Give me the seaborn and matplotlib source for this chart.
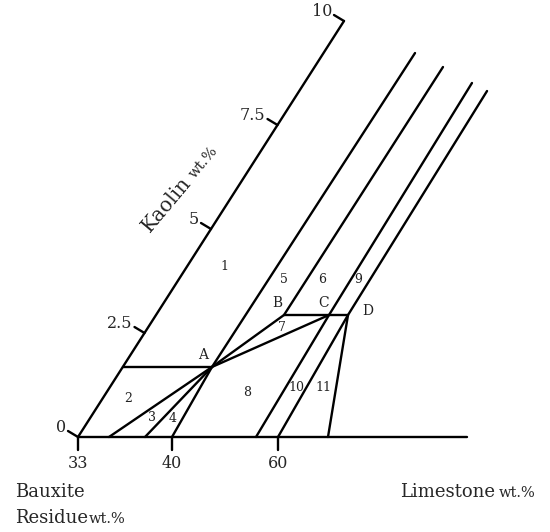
import numpy as np
import pandas as pd
import matplotlib
matplotlib.use("Agg")
import matplotlib.pyplot as plt
import seaborn as sns

sns.set_theme(style="white")
plt.rcParams['font.family'] = ['DejaVu Serif']

# ---- data (diagram coordinates: u = position along the base line, k = kaolin wt.%) ----
node_names = ['A', 'B', 'C', 'D']
node_u = [89.2, 128.0, 173.0, 192.0]
node_k = [1.683, 2.933, 2.933, 2.933]

base_u = [31, 67, 94, 178, 200, 250]      # line ends on the base line
base_end_u = 389                           # right end of the base line
top_u = [91.5, 128.4, 167.6, 187.8]        # upper ends of the long parallel lines
top_k = [9.23, 8.894, 8.51, 8.317]

kaolin_ticks = [0, 2.5, 5, 7.5, 10]
kaolin_tick_labels = ['0', '2.5', '5', '7.5', '10']
base_tick_u = [0, 94, 200]
base_tick_labels = ['33', '40', '60']

region_labels = ['1', '2', '3', '4', '5', '6', '7', '8', '9', '10', '11']
region_u = [37.3, 25.1, 61.8, 83.5, 105.0, 143.0, 133.7, 140.9, 179.0, 186.7, 213.7]
region_k = [4.087, 0.9375, 0.457, 0.433, 3.798, 3.798, 2.644, 1.058, 3.798, 1.178, 1.178]

point_label_u = [72.6, 113.3, 160.3, 209.4]
point_label_k = [1.971, 3.221, 3.221, 3.029]

# ---- mapping of diagram coordinates to the drawing plane ----
X0, Y0 = 78.0, 437.0
DX_K, DY_K = 26.6, 41.6


def to_xy(u, k):
    return X0 + u + k * DX_K, Y0 - k * DY_K


N = dict(zip(node_names, zip(node_u, node_k)))

segments = [
    [(0, 0), (base_end_u, 0)],                       # base line
    [(0, 0), (0, kaolin_ticks[-1])],                 # kaolin axis
    [(0, N['A'][1]), N['A']],                        # horizontal from A
    [N['A'], (base_u[0], 0)],
    [N['A'], (base_u[1], 0)],
    [N['A'], (base_u[2], 0)],
    [N['A'], (top_u[0], top_k[0])],
    [N['A'], N['B']],
    [N['A'], N['C']],
    [N['B'], (top_u[1], top_k[1])],
    [N['B'], N['D']],
    [(base_u[3], 0), N['C'], (top_u[2], top_k[2])],
    [(base_u[4], 0), N['D'], (top_u[3], top_k[3])],
    [N['D'], (base_u[5], 0)],
]

rows = []
for i, seg in enumerate(segments):
    for order, (u, k) in enumerate(seg):
        x, y = to_xy(u, k)
        rows.append(dict(seg=i, order=order, x=x, y=y))

# tick marks
tick_rows = []
tid = 0
for k in kaolin_ticks:
    x, y = to_xy(0, k)
    tick_rows += [dict(seg=tid, x=x, y=y), dict(seg=tid, x=x - 10, y=y - 6)]
    tid += 1
for u in base_tick_u:
    x, y = to_xy(u, 0)
    tick_rows += [dict(seg=tid, x=x, y=y), dict(seg=tid, x=x, y=y + 13)]
    tid += 1

df = pd.DataFrame(rows)
dft = pd.DataFrame(tick_rows)

fig = plt.figure(figsize=(5.5, 5.32), dpi=100)
ax = fig.add_axes([0, 0, 1, 1])
sns.lineplot(data=df, x='x', y='y', units='seg', estimator=None, sort=False,
             color='black', linewidth=1.7, ax=ax, legend=False)
sns.lineplot(data=dft, x='x', y='y', units='seg', estimator=None, sort=False,
             color='black', linewidth=1.7, ax=ax, legend=False)
ax.set_xlim(0, 550)
ax.set_ylim(532, 0)
ax.axis('off')

# kaolin tick labels
for k, lab in zip(kaolin_ticks, kaolin_tick_labels):
    x, y = to_xy(0, k)
    ax.text(x - 12, y - 9, lab, ha='right', va='center', fontsize=11.5)

# base tick labels
for u, lab in zip(base_tick_u, base_tick_labels):
    x, y = to_xy(u, 0)
    ax.text(x, y + 26, lab, ha='center', va='center', fontsize=11.5)

# region numbers
for lab, u, k in zip(region_labels, region_u, region_k):
    x, y = to_xy(u, k)
    ax.text(x, y, lab, ha='center', va='center', fontsize=9, color='#222222')

# point letters
for lab, u, k in zip(node_names, point_label_u, point_label_k):
    x, y = to_xy(u, k)
    ax.text(x, y, lab, ha='center', va='center', fontsize=10, color='#222222')

# axis titles
ang = 50.0
ax.text(150, 233, 'Kaolin', rotation=ang, rotation_mode='anchor',
        ha='left', va='baseline', fontsize=14.5)
ax.text(150 + 70 * np.cos(np.radians(ang)), 233 - 70 * np.sin(np.radians(ang)),
        'wt.%', rotation=ang, rotation_mode='anchor',
        ha='left', va='baseline', fontsize=10.5)

ax.text(15, 497, 'Bauxite', ha='left', va='baseline', fontsize=13)
ax.text(15, 523, 'Residue', ha='left', va='baseline', fontsize=13)
ax.text(89, 523, 'wt.%', ha='left', va='baseline', fontsize=10.5)
ax.text(400, 497, 'Limestone', ha='left', va='baseline', fontsize=13)
ax.text(499, 497, 'wt.%', ha='left', va='baseline', fontsize=10.5)

fig.savefig('out.png', dpi=100)
